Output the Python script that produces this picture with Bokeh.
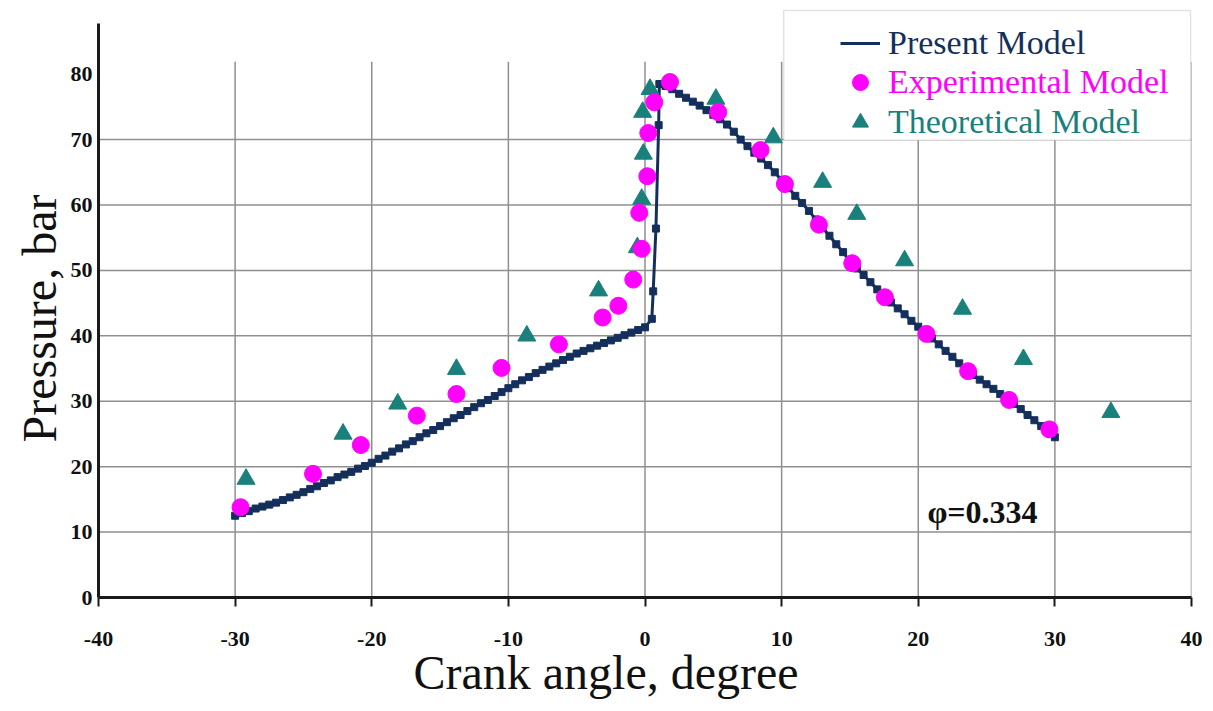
import math
from bokeh.plotting import figure
from bokeh.models import Range1d, FixedTicker, Label, Legend, LegendItem, BoxAnnotation, Title
from bokeh.embed import file_html
from bokeh.resources import INLINE

# ---------------- data ----------------
present_x = [-30, -29.5, -29, -28.5, -28, -27.5, -27, -26.5, -26, -25.5, -25, -24.5, -24, -23.5,
             -23, -22.5, -22, -21.5, -21, -20.5, -20, -19.5, -19, -18.5, -18, -17.5, -17, -16.5,
             -16, -15.5, -15, -14.5, -14, -13.5, -13, -12.5, -12, -11.5, -11, -10.5, -10, -9.5,
             -9, -8.5, -8, -7.5, -7, -6.5, -6, -5.5, -5, -4.5, -4, -3.5, -3, -2.5, -2, -1.5,
             -1, -0.5, 0, 0.5, 0.6, 0.8, 1.0, 1.05, 1.5, 2, 2.5, 3, 3.5, 4, 4.5, 5, 5.5, 6, 6.5,
             7, 7.5, 8, 8.5, 9, 9.5, 10, 10.5, 11, 11.5, 12, 12.5, 13, 13.5, 14, 14.5, 15, 15.5,
             16, 16.5, 17, 17.5, 18, 18.5, 19, 19.5, 20, 20.5, 21, 21.5, 22, 22.5, 23, 23.5, 24,
             24.5, 25, 25.5, 26, 26.5, 27, 27.5, 28, 28.5, 29, 29.5, 30]
present_y = [12.5, 12.9, 13.2, 13.6, 13.9, 14.2, 14.5, 14.9, 15.3, 15.7, 16.1, 16.6, 17.0, 17.5,
             17.9, 18.4, 18.8, 19.2, 19.7, 20.1, 20.6, 21.2, 21.7, 22.3, 22.8, 23.4, 23.9, 24.5,
             25.1, 25.6, 26.2, 26.8, 27.4, 27.9, 28.5, 29.1, 29.7, 30.2, 30.8, 31.4, 32.0, 32.6,
             33.2, 33.7, 34.3, 34.8, 35.3, 35.8, 36.3, 36.8, 37.3, 37.7, 38.1, 38.5, 38.9, 39.3,
             39.7, 40.1, 40.5, 40.9, 41.3, 42.6, 46.8, 56.4, 72.2, 78.5, 78.2, 77.7, 77.0, 76.4,
             75.8, 75.2, 74.5, 73.8, 73.1, 72.3, 71.2, 70.0, 69.0, 68.0, 67.1, 66.1, 65.0, 63.8,
             62.6, 61.4, 60.3, 59.1, 57.8, 56.5, 55.3, 54.0, 52.8, 51.3, 50.3, 49.3, 48.2, 47.1,
             46.0, 45.1, 44.2, 43.3, 42.3, 41.4, 40.5, 39.6, 38.7, 37.7, 36.8, 35.8, 34.9, 34.0,
             33.3, 32.6, 31.9, 31.1, 30.4, 29.6, 28.8, 27.9, 27.1, 26.2, 25.4, 24.5]

exp_x = [-29.6, -24.3, -20.8, -16.7, -13.8, -10.5, -6.3, -3.1, -1.95, -0.86, -0.24, -0.42, 0.17,
         0.24, 0.68, 1.83, 5.36, 8.46, 10.24, 12.73, 15.17, 17.56, 20.6, 23.65, 26.65, 29.6]
exp_y = [13.8, 18.9, 23.3, 27.8, 31.1, 35.1, 38.7, 42.8, 44.6, 48.6, 53.3, 58.8, 64.4,
         71.0, 75.7, 78.8, 74.2, 68.4, 63.2, 57.0, 51.1, 45.9, 40.3, 34.6, 30.2, 25.7]

theo_x = [-29.2, -22.1, -18.1, -13.8, -8.65, -3.4, -0.56, -0.24, -0.12, -0.17, 0.37, 5.19,
          9.39, 13.0, 15.5, 19.0, 23.24, 27.7, 34.1]
theo_y = [18.1, 25.0, 29.6, 34.9, 40.0, 46.9, 53.5, 60.9, 67.8, 74.2, 77.7, 76.2,
          70.3, 63.5, 58.6, 51.5, 44.1, 36.4, 28.3]

x_ticks = [-40, -30, -20, -10, 0, 10, 20, 30, 40]
y_ticks = [0, 10, 20, 30, 40, 50, 60, 70, 80]
hgrid_y = [10, 20, 30, 40, 50, 60, 70]
vgrid_x = [-30, -20, -10, 0, 10, 20, 30, 40]

series_names = ["Present Model", "Experimental Model", "Theoretical Model"]
x_title = "Crank angle, degree"
y_title = "Pressure, bar"
note_text = "\u03c6=0.334"

NAVY = "#152f5c"
MAGENTA = "#ff00ff"
TEAL = "#1a807b"
SERIF = "Liberation Serif"

# ---------------- figure ----------------
p = figure(width=1213, height=711, x_range=Range1d(-40, 40), y_range=Range1d(0, 90.5),
           output_backend="svg", toolbar_location=None,
           min_border_left=98, min_border_right=22, min_border_top=5, min_border_bottom=114)
p.outline_line_color = None
p.grid.visible = False
p.background_fill_color = "white"
p.border_fill_color = "white"

# grid lines (drawn from the tick arrays)
p.segment(x0=[-40] * len(hgrid_y), y0=hgrid_y, x1=[40] * len(hgrid_y), y1=hgrid_y,
          line_color="#8f8f8f", line_width=1.5, level="underlay")
p.segment(x0=vgrid_x, y0=[0] * len(vgrid_x), x1=vgrid_x, y1=[81.9] * len(vgrid_x),
          line_color="#8f8f8f", line_width=1.5, level="underlay")

# series
r_line = p.line(present_x, present_y, line_color=NAVY, line_width=3)
r_sq = p.scatter(present_x, present_y, marker="square", size=7, color=NAVY)
r_theo = p.scatter(theo_x, theo_y, marker="triangle", size=18, color=TEAL)
r_exp = p.scatter(exp_x, exp_y, marker="circle", size=17, color=MAGENTA)

# axes
p.xaxis.ticker = FixedTicker(ticks=x_ticks)
p.yaxis.ticker = FixedTicker(ticks=y_ticks)
p.xaxis.major_label_overrides = {t: str(t) for t in x_ticks}
p.yaxis.major_label_overrides = {t: str(t) for t in y_ticks}
for ax in (p.xaxis, p.yaxis):
    ax.axis_line_width = 3
    ax.axis_line_color = "#1a1a1a"
    ax.minor_tick_line_color = None
    ax.major_label_text_font = SERIF
    ax.major_label_text_font_style = "bold"
    ax.major_label_text_font_size = "22px"
    ax.major_label_text_color = "#111111"
p.xaxis.major_tick_out = 9
p.xaxis.major_tick_in = 0
p.xaxis.major_tick_line_width = 2
p.xaxis.major_tick_line_color = "#1a1a1a"
p.xaxis.major_label_standoff = 25
p.yaxis.major_tick_line_color = None
p.yaxis.major_tick_out = 0
p.yaxis.major_tick_in = 0
p.yaxis.major_label_standoff = 6
p.yaxis.bounds = (0, 87.8)

# axis titles
p.add_layout(Title(text=x_title, align="left", offset=315, standoff=-10,
                   text_font=SERIF, text_font_size="48px", text_font_style="normal",
                   text_color="#111111"), "below")
p.add_layout(Title(text=y_title, align="left", offset=155, standoff=0, vertical_align="top",
                   text_font=SERIF, text_font_size="48px", text_font_style="normal",
                   text_color="#111111"), "left")

# annotation
p.add_layout(Label(x=20.67, y=13.0, text=note_text, text_font=SERIF, text_font_style="bold",
                   text_font_size="32px", text_baseline="alphabetic", text_color="#111111"))

# legend box
p.add_layout(BoxAnnotation(left=10.15, right=39.94, top=89.75, bottom=69.9,
                           fill_color="white", fill_alpha=1.0,
                           line_color="#a0a0a0", line_width=1.5))

# legends (one per entry so each label keeps its own colour)
legend_specs = [
    (series_names[0], [r_line], NAVY, 534),
    (series_names[1], [r_exp], MAGENTA, 495),
    (series_names[2], [r_theo], TEAL, 455),
]
for name, rends, col, vy in legend_specs:
    leg = Legend(items=[LegendItem(label=name, renderers=rends)],
                 location=(742, vy), padding=0, margin=0, spacing=0,
                 glyph_width=40, glyph_height=40, label_height=40, label_standoff=8,
                 label_text_font=SERIF, label_text_font_size="34px", label_text_color=col,
                 border_line_alpha=0, background_fill_alpha=0)
    p.add_layout(leg)

open("out.html", "w").write(file_html(p, INLINE))
